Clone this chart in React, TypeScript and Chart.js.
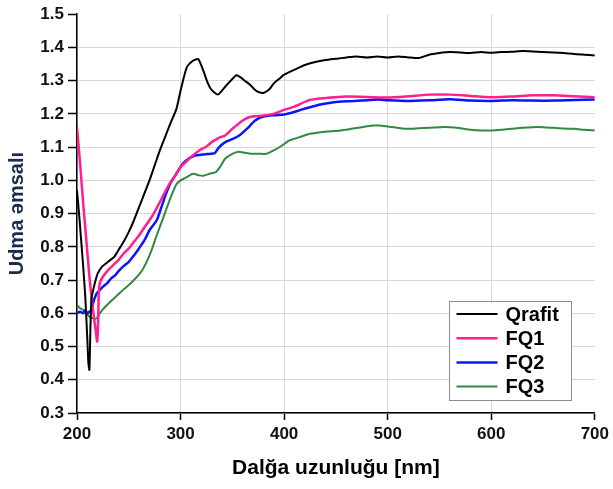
import { useEffect, useRef } from 'react';
import { Chart, registerables } from 'chart.js';

Chart.register(...registerables);

// Wavelengths (nm) and absorption coefficients
const qrafitX = [200, 202, 204, 206, 208, 210, 211, 212, 213, 214, 216, 218, 220, 224, 228, 232, 236, 240, 245, 250, 255, 260, 265, 270, 275, 280, 285, 290, 296, 300, 306, 312, 317, 322, 326, 330, 336, 340, 344, 350, 354, 358, 362, 367, 372, 376, 380, 386, 390, 395, 400, 410, 420, 430, 440, 450, 460, 470, 480, 490, 500, 510, 520, 530, 540, 550, 560, 570, 580, 590, 600, 610, 620, 630, 640, 650, 660, 670, 680, 690, 700];
const qrafitY = [0.97, 0.9, 0.82, 0.74, 0.65, 0.52, 0.45, 0.43, 0.56, 0.645, 0.675, 0.7, 0.72, 0.74, 0.75, 0.76, 0.77, 0.79, 0.815, 0.845, 0.88, 0.92, 0.96, 1.0, 1.045, 1.09, 1.13, 1.17, 1.215, 1.27, 1.34, 1.36, 1.365, 1.33, 1.295, 1.272, 1.258, 1.27, 1.285, 1.305, 1.316, 1.31, 1.3, 1.288, 1.272, 1.265, 1.263, 1.275, 1.292, 1.305, 1.318, 1.333, 1.347, 1.356, 1.362, 1.366, 1.37, 1.373, 1.37, 1.373, 1.37, 1.373, 1.37, 1.368, 1.378, 1.383, 1.386, 1.385, 1.383, 1.386, 1.384, 1.386, 1.387, 1.389, 1.388, 1.386, 1.385, 1.383, 1.38, 1.378, 1.376];

const fq1X = [200, 203, 206, 209, 212, 215, 218, 219.5, 220.5, 221, 222, 225, 230, 235, 240, 245, 250, 255, 260, 265, 270, 275, 280, 285, 290, 295, 300, 305, 310, 318, 325, 330, 337, 343, 350, 356, 360, 366, 372, 380, 390, 398, 410, 423, 435, 449, 460, 480, 500, 520, 540, 560, 580, 600, 620, 640, 660, 680, 700];
const fq1Y = [1.16, 1.05, 0.93, 0.82, 0.71, 0.62, 0.55, 0.515, 0.58, 0.66, 0.69, 0.71, 0.73, 0.745, 0.76, 0.78, 0.795, 0.815, 0.835, 0.858, 0.88, 0.905, 0.935, 0.965, 0.993, 1.015, 1.04, 1.055, 1.07, 1.09, 1.102, 1.115, 1.128, 1.135, 1.155, 1.17, 1.18, 1.19, 1.193, 1.195, 1.2, 1.21, 1.222, 1.24, 1.246, 1.25, 1.252, 1.251, 1.249, 1.253, 1.258, 1.258, 1.254, 1.25, 1.252, 1.256, 1.256, 1.253, 1.25];

const fq2X = [200, 203, 206, 208, 210, 212, 214, 215.5, 217, 219, 222, 225, 229, 233, 237, 241, 245, 250, 254, 258, 262, 266, 270, 277, 281, 286, 290, 295, 302, 308, 314, 320, 326, 333, 336, 340, 345, 350, 357, 365, 372, 380, 390, 400, 408, 416, 425, 435, 448, 460, 475, 490, 500, 520, 540, 560, 580, 600, 620, 640, 660, 680, 700];
const fq2Y = [0.6, 0.605, 0.6, 0.61, 0.6, 0.605, 0.61, 0.63, 0.645, 0.66, 0.67, 0.68, 0.69, 0.705, 0.715, 0.73, 0.742, 0.755, 0.77, 0.787, 0.805, 0.825, 0.85, 0.88, 0.915, 0.96, 0.99, 1.015, 1.05, 1.066, 1.075, 1.077, 1.079, 1.082, 1.095, 1.108, 1.118, 1.124, 1.136, 1.158, 1.18, 1.192, 1.196, 1.198, 1.204, 1.212, 1.22, 1.228, 1.235, 1.238, 1.24, 1.243, 1.241, 1.239, 1.241, 1.244, 1.24, 1.239, 1.241, 1.24, 1.24, 1.242, 1.243];

const fq3X = [200, 203, 206, 209, 212, 215, 219, 222, 225, 230, 235, 240, 245, 250, 255, 260, 264, 268, 272, 277, 283, 290, 296, 300, 305, 312, 318, 322, 328, 334, 338, 343, 350, 356, 362, 368, 375, 383, 390, 398, 405, 415, 425, 435, 445, 455, 465, 475, 485, 492, 500, 510, 520, 530, 540, 550, 560, 570, 580, 590, 600, 610, 620, 630, 640, 650, 660, 670, 680, 690, 700];
const fq3Y = [0.625, 0.615, 0.61, 0.6, 0.59, 0.585, 0.585, 0.6, 0.612, 0.628, 0.643, 0.657, 0.672, 0.685, 0.7, 0.717, 0.735, 0.76, 0.79, 0.835, 0.885, 0.945, 0.988, 1.0, 1.008, 1.02, 1.015, 1.014, 1.02, 1.025, 1.04, 1.065, 1.08, 1.086, 1.083, 1.08, 1.08, 1.08, 1.09, 1.105, 1.12, 1.13, 1.14, 1.145, 1.148, 1.15, 1.155, 1.16, 1.165, 1.165, 1.162, 1.158, 1.155, 1.157, 1.158, 1.16, 1.16, 1.157, 1.152, 1.15, 1.15, 1.152, 1.155, 1.158, 1.16, 1.16, 1.158, 1.156, 1.155, 1.152, 1.15];

const seriesNames = ['Qrafit', 'FQ1', 'FQ2', 'FQ3'];
const xTicks = [200, 300, 400, 500, 600, 700];
const yTicks = [0.3, 0.4, 0.5, 0.6, 0.7, 0.8, 0.9, 1.0, 1.1, 1.2, 1.3, 1.4, 1.5];
const xTitle = 'Dalğa uzunluğu [nm]';
const yTitle = 'Udma əmsalı';

const FONT = "'Liberation Sans', Arial, Helvetica, sans-serif";

export default function App() {
  const ref = useRef<HTMLCanvasElement>(null);

  useEffect(() => {
    if (!ref.current) return;
    const pts = (xs: number[], ys: number[]) => xs.map((x, i) => ({ x, y: ys[i] }));

    const boxLegend = {
      id: 'boxLegend',
      afterDraw(chart: any) {
        const ctx = chart.ctx as CanvasRenderingContext2D;
        const area = chart.chartArea;
        const bw = 122;
        const bh = 99;
        const bx = Math.round(area.right - 24 - bw) + 0.5;
        const by = Math.round(area.bottom - 13 - bh) + 0.5;
        ctx.save();
        ctx.fillStyle = '#ffffff';
        ctx.fillRect(bx, by, bw, bh);
        ctx.strokeStyle = '#8c8c8c';
        ctx.lineWidth = 1;
        ctx.strokeRect(bx, by, bw, bh);
        ctx.font = `bold 20px ${FONT}`;
        ctx.textBaseline = 'middle';
        ctx.textAlign = 'left';
        chart.data.datasets.forEach((ds: any, i: number) => {
          const y = by + 12.5 + i * 24.2;
          ctx.strokeStyle = ds.borderColor;
          ctx.lineWidth = ds.borderWidth;
          ctx.beginPath();
          ctx.moveTo(bx + 7, y);
          ctx.lineTo(bx + 48, y);
          ctx.stroke();
          ctx.fillStyle = '#000';
          ctx.fillText(ds.label, bx + 56, y + 1);
        });
        ctx.restore();
      },
    };

    const chart = new Chart(ref.current, {
      type: 'line',
      data: {
        datasets: [
          { label: seriesNames[0], data: pts(qrafitX, qrafitY), borderColor: '#000000', borderWidth: 2, pointRadius: 0, tension: 0.2 },
          { label: seriesNames[1], data: pts(fq1X, fq1Y), borderColor: '#ff1f8e', borderWidth: 2.5, pointRadius: 0, tension: 0.2 },
          { label: seriesNames[2], data: pts(fq2X, fq2Y), borderColor: '#0a14ff', borderWidth: 2.5, pointRadius: 0, tension: 0.2 },
          { label: seriesNames[3], data: pts(fq3X, fq3Y), borderColor: '#2e8b3f', borderWidth: 2, pointRadius: 0, tension: 0.2 },
        ],
      },
      options: {
        animation: false,
        responsive: false,
        events: [],
        layout: { padding: { top: 13, right: 18, left: 0, bottom: 0 } },
        plugins: { legend: { display: false }, tooltip: { enabled: false } },
        scales: {
          x: {
            type: 'linear',
            min: 200,
            max: 700,
            afterBuildTicks: (s: any) => { s.ticks = xTicks.map((v) => ({ value: v })); },
            afterFit: (s: any) => { s.height = 76; },
            ticks: {
              autoSkip: false,
              maxRotation: 0,
              padding: 4,
              color: '#111',
              font: { family: FONT, size: 17, weight: 'bold' },
              callback: (v: any) => String(v),
            },
            grid: {
              color: (c: any) => (c.tick && c.tick.value === 700 ? 'rgba(0,0,0,0)' : '#d9d9d9'),
              lineWidth: 1,
              tickColor: '#000',
              tickLength: 7,
              tickWidth: 1.5,
            },
            border: { color: '#000', width: 1.5 },
            title: {
              display: true,
              text: xTitle,
              color: '#000',
              font: { family: FONT, size: 21, weight: 'bold' },
              padding: { top: 0, bottom: 8 },
            },
          },
          y: {
            type: 'linear',
            min: 0.3,
            max: 1.5,
            afterBuildTicks: (s: any) => { s.ticks = yTicks.map((v) => ({ value: v })); },
            afterFit: (s: any) => { s.width = 77; },
            ticks: {
              autoSkip: false,
              padding: 4,
              color: '#111',
              font: { family: FONT, size: 17, weight: 'bold' },
              callback: (v: any) => Number(v).toFixed(1),
            },
            grid: {
              color: (c: any) => (c.tick && Math.abs(c.tick.value - 1.5) < 1e-6 ? 'rgba(0,0,0,0)' : '#d9d9d9'),
              lineWidth: 1,
              tickColor: '#000',
              tickLength: 9,
              tickWidth: 1.5,
            },
            border: { color: '#000', width: 1.5 },
            title: {
              display: true,
              text: yTitle,
              color: '#1a2b4f',
              font: { family: FONT, size: 20, weight: 'bold' },
              padding: { top: 5, bottom: 0 },
            },
          },
        },
      },
      plugins: [boxLegend],
    });

    return () => chart.destroy();
  }, []);

  return (
    <div style={{ position: 'absolute', left: 0, top: 0, width: 613, height: 489, background: '#fff' }}>
      <canvas ref={ref} width={613} height={489} style={{ display: 'block' }} />
    </div>
  );
}
